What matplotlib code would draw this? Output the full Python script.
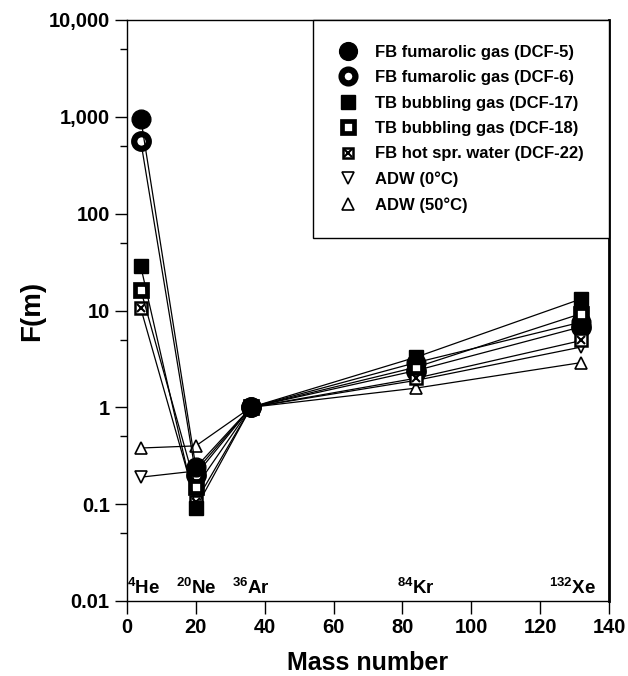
import numpy as np
import matplotlib
matplotlib.use("Agg")
from matplotlib import pyplot as plt
from matplotlib.ticker import FixedLocator, FuncFormatter
from matplotlib.legend_handler import HandlerTuple

plt.rcParams['font.family'] = ['Liberation Sans', 'DejaVu Sans']
plt.rcParams['mathtext.default'] = 'regular'

# mass numbers of 4He, 20Ne, 36Ar, 84Kr, 132Xe
mass = [4, 20, 36, 84, 132]
isotopes = [r'$^{4}$He', r'$^{20}$Ne', r'$^{36}$Ar', r'$^{84}$Kr', r'$^{132}$Xe']

dcf5 = [960, 0.24, 1, 2.9, 7.6]
dcf6 = [560, 0.20, 1, 2.4, 6.8]
dcf17 = [28.6, 0.091, 1, 3.3, 13.2]
dcf18 = [16.3, 0.15, 1, 2.6, 9.3]
dcf22 = [10.5, 0.106, 1, 2.0, 4.9]
adw0 = [0.19, 0.22, 1, 1.9, 4.2]
adw50 = [0.38, 0.40, 1, 1.58, 2.9]

fig = plt.figure(figsize=(6.28, 6.76), dpi=100)
ax = fig.add_axes([127 / 628, 1 - 601 / 676, (609 - 127) / 628, (601 - 20) / 676])

line_kw = dict(color='black', lw=0.9)

h50, = ax.plot(mass, adw50, marker='^', ms=9, mfc='white', mec='black', mew=1.2, zorder=2, **line_kw)
h0, = ax.plot(mass, adw0, marker='v', ms=9, mfc='white', mec='black', mew=1.2, zorder=2, **line_kw)
h6, = ax.plot(mass, dcf6, marker='o', ms=10.5, mfc='white', mec='black', mew=4.5, zorder=3, **line_kw)
h5, = ax.plot(mass, dcf5, marker='o', ms=13.5, mfc='black', mec='black', zorder=3.5, **line_kw)
h22a, = ax.plot(mass, dcf22, marker='s', ms=8, mfc='white', mec='black', mew=1.8, zorder=4, **line_kw)
h22b, = ax.plot(mass, dcf22, marker='x', ms=6, mec='black', mew=1.5, ls='none', zorder=4)
h18, = ax.plot(mass, dcf18, marker='s', ms=8.5, mfc='white', mec='black', mew=3.4, zorder=5, **line_kw)
h17, = ax.plot(mass, dcf17, marker='s', ms=10, mfc='black', mec='black', zorder=6, **line_kw)
# the filled circle sits on top at the 36Ar normalisation point
ax.plot(mass[2], dcf5[2], marker='o', ms=13.5, mfc='black', mec='black', ls='none', zorder=7)

ax.set_yscale('log')
ax.set_ylim(0.01, 10000)
ax.set_xlim(0, 140)
ax.set_xticks(range(0, 141, 20))
ax.yaxis.set_major_locator(FixedLocator([0.01, 0.1, 1, 10, 100, 1000, 10000]))
ax.yaxis.set_minor_locator(FixedLocator([0.05, 0.5, 5, 50, 500, 5000]))
ax.yaxis.set_minor_formatter(FuncFormatter(lambda v, p: ''))
ax.yaxis.set_major_formatter(FuncFormatter(
    lambda v, p: '{:,}'.format(int(v)) if v >= 1 else '{:g}'.format(v)))

ax.tick_params(axis='both', which='major', direction='out', length=9, width=1,
               labelsize=14.5)
ax.tick_params(axis='y', which='minor', direction='out', length=5, width=1)
for lab in ax.get_xticklabels() + ax.get_yticklabels():
    lab.set_fontweight('bold')

for s in ax.spines.values():
    s.set_linewidth(1)
ax.spines['right'].set_linewidth(2)

for m, name in zip(mass, isotopes):
    xm = m
    if m == 4:
        xm = 4.8
    elif m == 132:
        xm = 129.5
    ax.text(xm, 0.0108, name, ha='center', va='bottom', fontsize=13.5, fontweight='bold')

ax.set_xlabel('Mass number', fontsize=18, fontweight='bold', labelpad=10)
ax.set_ylabel('F(m)', fontsize=20, fontweight='bold', labelpad=2)

labels = ['FB fumarolic gas (DCF-5)', 'FB fumarolic gas (DCF-6)',
          'TB bubbling gas (DCF-17)', 'TB bubbling gas (DCF-18)',
          'FB hot spr. water (DCF-22)', 'ADW (0°C)', 'ADW (50°C)']
leg = ax.legend([h5, h6, h17, h18, (h22a, h22b), h0, h50], labels,
                handler_map={tuple: HandlerTuple(ndivide=1, pad=0)},
                loc='upper right', bbox_to_anchor=(1.0, 1.0), borderaxespad=0,
                fancybox=False, edgecolor='black', framealpha=1,
                prop={'weight': 'bold', 'size': 12}, handlelength=1.2,
                handletextpad=1.05, labelspacing=0.62, markerscale=0.95,
                borderpad=1.5)
leg.get_frame().set_linewidth(1)
for line in leg.get_lines():
    line.set_linestyle('none')

fig.savefig('out.png', dpi=100)
